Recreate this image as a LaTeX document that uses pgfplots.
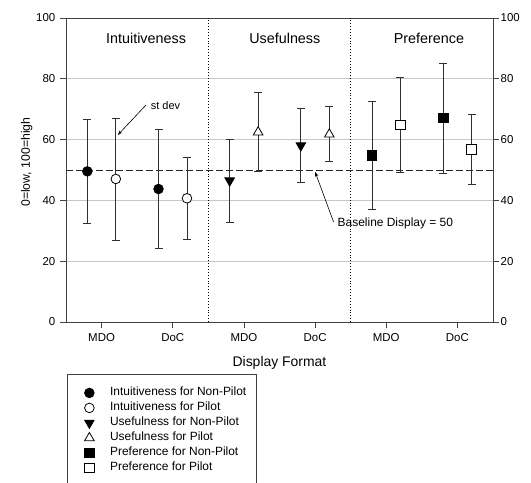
\documentclass[border=0pt]{standalone}
\usepackage{pgfplots}
\pgfplotsset{compat=1.18}
\usepackage{fontspec}
\setmainfont{Liberation Sans}
\usetikzlibrary{arrows.meta}
\definecolor{spine}{HTML}{404040}
\definecolor{ebar}{HTML}{303030}
\begin{document}
\begin{tikzpicture}
\useasboundingbox (-66bp,-161bp) rectangle (465bp,322bp);
\begin{axis}[
  at={(0,0)}, anchor=south west,
  scale only axis, width=427bp, height=304bp,
  xmin=0.5, xmax=6.5, ymin=0, ymax=100,
  xtick={1,2,3,4,5,6}, xticklabels={MDO,DoC,MDO,DoC,MDO,DoC},
  ytick={0,20,40,60,80,100},
  xtick pos=bottom, ytick pos=left,
  tick align=outside, major tick length=5.5bp,
  axis line style={color=spine, line width=0.8bp},
  tick style={color=spine, line width=0.8bp},
  ymajorgrids, grid style={color=black!22, line width=0.6bp},
  /pgf/number format/assume math mode=true,
  ticklabel style={font=\fontsize{11.5}{13}\selectfont},
  yticklabel style={inner xsep=0pt, xshift=-5bp},
  xticklabel style={inner ysep=0pt, yshift=-6bp},
  xlabel={Display Format},
  ylabel={0=low, 100=high},
  every axis x label/.style={at={(axis description cs:0.5,-0.148)}, anchor=base, font=\fontsize{14}{16}\selectfont},
  every axis y label/.style={at={(axis description cs:-0.092,0.526)}, rotate=90, anchor=center, font=\fontsize{12.3}{14}\selectfont},
  legend style={at={(0.0016,-0.1711)}, anchor=north west, draw=spine, line width=0.8bp,
    font=\fontsize{12}{14}\selectfont, inner xsep=8bp, inner ysep=11bp, row sep=0pt,
    nodes={text height=9bp, text depth=3bp, inner ysep=1.5bp, inner xsep=2bp}},
  legend cell align=left,
  legend image code/.code={\path[draw=none,fill=none] (0bp,0bp) -- (33bp,0bp);\draw[mark repeat=2,mark phase=2,#1,only marks] plot coordinates {(0bp,0bp) (14.3bp,0bp) (33bp,0bp)};},
  error bars/y dir=both, error bars/y explicit,
  error bars/error bar style={color=ebar, line width=0.8bp, solid},
  error bars/error mark options={rotate=90, mark size=4bp, line width=0.8bp, color=ebar, solid},
]
% separators and baseline
\draw[dotted, line width=0.9bp] (axis cs:2.5,0) -- (axis cs:2.5,100);
\draw[dotted, line width=0.9bp] (axis cs:4.5,0) -- (axis cs:4.5,100);
\draw[dash pattern=on 7bp off 3bp, line width=0.8bp, color=black!85] (axis cs:0.5,50) -- (axis cs:6.5,50);

% Intuitiveness Non-Pilot
\addplot[black, only marks, mark=*, mark size=4.8bp, mark options={solid, draw=black, fill=black, line width=0.8bp}]
  coordinates {(0.8,49.55) +- (0,17.05) (1.8,43.75) +- (0,19.65)};
\addlegendentry{Intuitiveness for Non-Pilot}
% Intuitiveness Pilot
\addplot[black, only marks, mark=*, mark size=4.8bp, mark options={solid, draw=black, fill=white, line width=0.8bp}]
  coordinates {(1.2,47.05) +- (0,20.05) (2.2,40.7) +- (0,13.5)};
\addlegendentry{Intuitiveness for Pilot}
% Usefulness Non-Pilot
\addplot[black, only marks, mark=triangle*, mark size=5.5bp, mark options={solid, draw=black, fill=black, line width=0.8bp, rotate=180}]
  coordinates {(2.8,46.5) +- (0,13.6) (3.8,58.05) +- (0,12.15)};
\addlegendentry{Usefulness for Non-Pilot}
% Usefulness Pilot
\addplot[black, only marks, mark=triangle*, mark size=5.5bp, mark options={solid, draw=black, fill=white, line width=0.8bp}]
  coordinates {(3.2,62.45) +- (0,13.05) (4.2,61.75) +- (0,9.05)};
\addlegendentry{Usefulness for Pilot}
% Preference Non-Pilot
\addplot[black, only marks, mark=square*, mark size=4.8bp, mark options={solid, draw=black, fill=black, line width=0.8bp}]
  coordinates {(4.8,54.75) +- (0,17.75) (5.8,67.1) +- (0,18.1)};
\addlegendentry{Preference for Non-Pilot}
% Preference Pilot
\addplot[black, only marks, mark=square*, mark size=4.8bp, mark options={solid, draw=black, fill=white, line width=0.8bp}]
  coordinates {(5.2,64.85) +- (0,15.65) (6.2,56.7) +- (0,11.5)};
\addlegendentry{Preference for Pilot}

% group titles
\node[anchor=base, font=\fontsize{14.4}{16}\selectfont] at (axis cs:1.625,91.65) {Intuitiveness};
\node[anchor=base, font=\fontsize{14.4}{16}\selectfont] at (axis cs:3.575,91.65) {Usefulness};
\node[anchor=base, font=\fontsize{14.4}{16}\selectfont] at (axis cs:5.6,91.65) {Preference};
% annotations
\node[anchor=base west, inner sep=0pt, font=\fontsize{11}{13}\selectfont] at (axis cs:1.69,70.0) {st dev};
\draw[-{Stealth[length=5bp,width=3.5bp,open]}, line width=0.6bp] (axis cs:1.625,71.4) -- (axis cs:1.227,61.5);
\node[anchor=base west, inner sep=0pt, font=\fontsize{12}{14}\selectfont] at (axis cs:4.315,31.35) {Baseline Display = 50};
\draw[-{Stealth[length=5bp,width=3.5bp,open]}, line width=0.6bp] (axis cs:4.26,32.9) -- (axis cs:4.0,49.4);
\end{axis}
\begin{axis}[
  at={(0,0)}, anchor=south west,
  scale only axis, width=427bp, height=304bp,
  xmin=0.5, xmax=6.5, ymin=0, ymax=100,
  axis x line=none, axis y line*=right,
  ytick={0,20,40,60,80,100},
  tick align=outside, major tick length=5.5bp,
  axis line style={color=spine, line width=0.8bp, -},
  tick style={color=spine, line width=0.8bp},
  /pgf/number format/assume math mode=true,
  ticklabel style={font=\fontsize{11.5}{13}\selectfont},
  yticklabel style={inner xsep=0pt, xshift=2bp},
]
\end{axis}
\end{tikzpicture}
\end{document}
